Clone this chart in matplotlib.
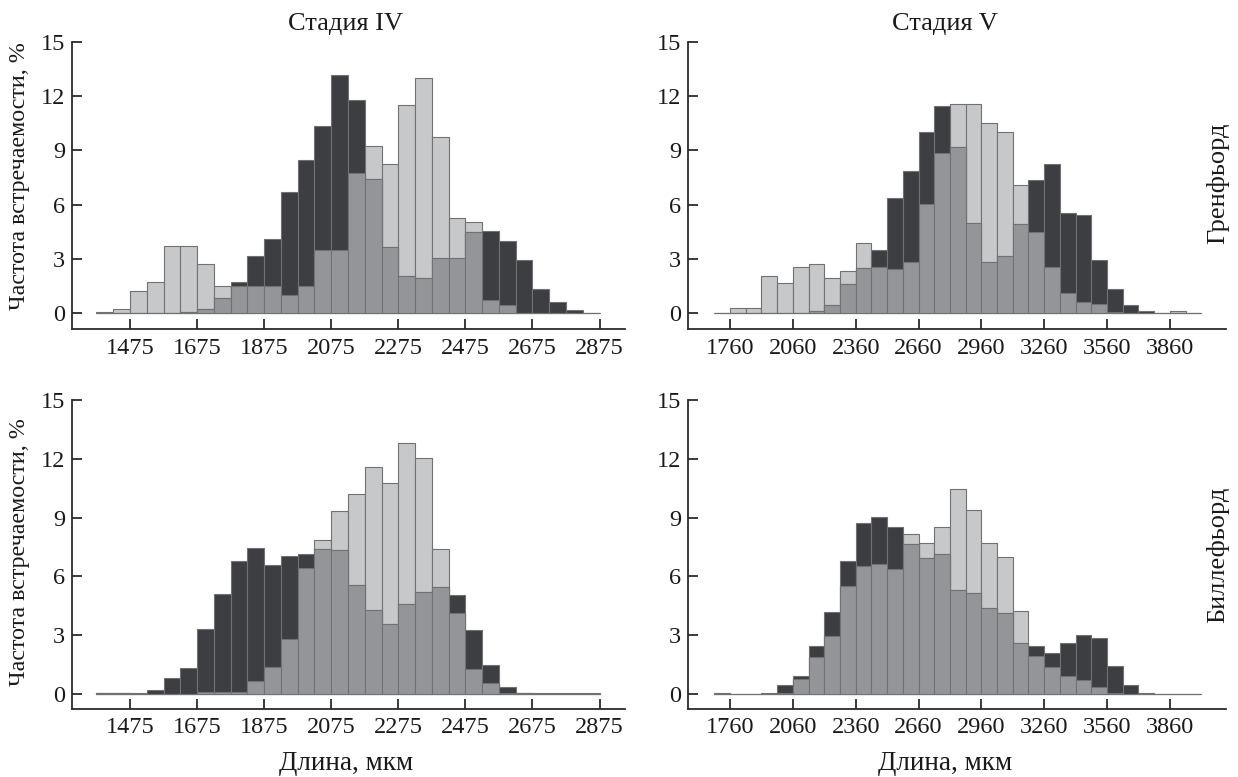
import matplotlib
matplotlib.use("Agg")
import matplotlib.pyplot as plt
import numpy as np

plt.rcParams['font.family'] = ['Liberation Serif', 'DejaVu Serif']

# ---------------- data ----------------
# Stage IV bins: width 50, starting at 1375
st4_start = 1375
st4_width = 50
st4_ticks = [1475, 1675, 1875, 2075, 2275, 2475, 2675, 2875]

# Stage V bins: width 75, starting at 1685
st5_start = 1685
st5_width = 75
st5_ticks = [1760, 2060, 2360, 2660, 2960, 3260, 3560, 3860]

y_ticks = [0, 3, 6, 9, 12, 15]

# Grenfjord, stage IV
gren4_light = [0.05, 0.24, 1.21, 1.73, 3.74, 3.74, 2.72, 1.49, 1.49, 1.49,
               1.49, 0.99, 1.49, 3.5, 3.5, 7.73, 9.26, 8.26, 11.49, 13.01,
               9.75, 5.28, 5.02, 0.72, 0.48, 0.0, 0.0, 0.0, 0.0, 0.03]
gren4_dark = [0.0, 0.0, 0.0, 0.0, 0.0, 0.05, 0.24, 0.85, 1.71, 3.18,
              4.09, 6.72, 8.49, 10.34, 13.16, 11.78, 7.42, 3.66, 2.06, 1.93,
              3.06, 3.06, 4.49, 4.56, 4.01, 2.93, 1.36, 0.61, 0.18, 0.0]

# Grenfjord, stage V
gren5_light = [0.03, 0.29, 0.29, 2.08, 1.69, 2.58, 2.71, 1.93, 2.32, 3.9,
               2.56, 2.45, 2.83, 6.02, 8.85, 11.56, 11.56, 10.51, 10.01, 7.07,
               4.51, 2.58, 1.14, 0.63, 0.5, 0.05, 0.0, 0.0, 0.04, 0.11, 0.03]
gren5_dark = [0.0, 0.0, 0.0, 0.0, 0.0, 0.0, 0.13, 0.44, 1.6, 2.52,
              3.52, 6.39, 7.88, 10.03, 11.43, 9.2, 4.97, 2.85, 3.17, 4.93,
              7.38, 8.23, 5.54, 5.43, 2.93, 1.36, 0.46, 0.15, 0.0, 0.0, 0.0]

# Billefjord, stage IV
bill4_light = [0.05, 0.07, 0.05, 0.02, 0.02, 0.02, 0.1, 0.1, 0.1, 0.68,
               1.39, 2.81, 6.45, 7.84, 9.34, 10.2, 11.58, 10.77, 12.81, 12.04,
               7.38, 4.12, 1.29, 0.56, 0.03, 0.07, 0.03, 0.03, 0.03, 0.03]
bill4_dark = [0.03, 0.03, 0.02, 0.22, 0.8, 1.31, 3.3, 5.12, 6.8, 7.43,
              6.6, 7.02, 7.14, 7.41, 7.36, 5.58, 4.29, 3.59, 4.61, 5.2,
              5.46, 5.05, 3.27, 1.48, 0.36, 0.03, 0.0, 0.0, 0.0, 0.0]

# Billefjord, stage V
bill5_light = [0.03, 0.02, 0.02, 0.02, 0.03, 0.78, 1.9, 2.98, 5.49, 6.55,
               6.63, 6.39, 8.15, 7.72, 8.54, 10.46, 9.37, 7.69, 7.01, 4.22,
               1.96, 1.38, 0.92, 0.71, 0.34, 0.07, 0.0, 0.0, 0.02, 0.02, 0.02]
bill5_dark = [0.0, 0.0, 0.0, 0.07, 0.48, 0.9, 2.45, 4.18, 6.8, 8.74,
              9.01, 8.54, 7.64, 6.96, 7.16, 5.29, 5.14, 4.4, 4.12, 2.6,
              2.45, 2.11, 2.59, 3.03, 2.86, 1.45, 0.44, 0.05, 0.0, 0.0, 0.0]

titles = ["Стадия IV", "Стадия V"]
row_labels = ["Гренфьорд", "Биллефьорд"]
ylabel = "Частота встречаемости, %"
xlabel = "Длина, мкм"

# ---------------- style ----------------
c_light = '#c7c8ca'
c_dark = '#3d3e41'
c_mid = '#949598'
c_edge = '#707173'
fs_tick = 17.5
fs_title = 19
fs_xlabel = 19.5
fs_ylabel = 17.3
fs_row = 19
tcol = '#1a1a1a'

W, H = 1238, 777
fig = plt.figure(figsize=(W / 100, H / 100), dpi=100)

def fx(px):
    return px / W

def fy(py):
    return 1 - py / H

panels = [
    ((72, 625, 41.7, 329.3), st4_start, st4_width, st4_ticks, gren4_light, gren4_dark, (1302, 2951), -0.88),
    ((688.3, 1226, 41.7, 329.3), st5_start, st5_width, st5_ticks, gren5_light, gren5_dark, (1561, 4128), -0.88),
    ((72, 625, 400, 709), st4_start, st4_width, st4_ticks, bill4_light, bill4_dark, (1302, 2951), -0.77),
    ((688.3, 1226, 400, 709), st5_start, st5_width, st5_ticks, bill5_light, bill5_dark, (1561, 4128), -0.77),
]

for (l, r, t, b), start, width, ticks, light, dark, xlim, ylow in panels:
    ax = fig.add_axes([fx(l), fy(b), fx(r) - fx(l), fy(t) - fy(b)])
    light = np.array(light)
    dark = np.array(dark)
    edges = start + width * np.arange(len(light))
    overlap = np.minimum(light, dark)
    ax.bar(edges, light, width=width, align='edge', color=c_light,
           edgecolor=c_edge, linewidth=0.8, zorder=2)
    ax.bar(edges, dark, width=width, align='edge', color=c_dark,
           edgecolor=c_edge, linewidth=0.8, zorder=3)
    ax.bar(edges, overlap, width=width, align='edge', color=c_mid,
           edgecolor=c_edge, linewidth=0.8, zorder=4)
    ax.set_xlim(*xlim)
    ax.set_ylim(ylow, 15)
    ax.set_xticks(ticks)
    ax.set_xticklabels([str(v) for v in ticks])
    ax.set_yticks(y_ticks)
    ax.spines['top'].set_visible(False)
    ax.spines['right'].set_visible(False)
    for s in ('left', 'bottom'):
        ax.spines[s].set_linewidth(1.3)
        ax.spines[s].set_color('#2b2b2b')
    ax.tick_params(direction='in', length=7, width=1.3, color='#2b2b2b',
                   labelsize=fs_tick, labelcolor=tcol)
    ax.tick_params(axis='x', pad=6)
    ax.tick_params(axis='y', pad=5)

# titles
fig.text(fx(346), fy(24), titles[0], ha='center', va='center', fontsize=fs_title, color=tcol)
fig.text(fx(945), fy(24), titles[1], ha='center', va='center', fontsize=fs_title, color=tcol)

# y labels
fig.text(fx(20), fy(176), ylabel, rotation=90, ha='center', va='center', fontsize=fs_ylabel, color=tcol)
fig.text(fx(20), fy(552), ylabel, rotation=90, ha='center', va='center', fontsize=fs_ylabel, color=tcol)

# x labels
fig.text(fx(346), fy(764), xlabel, ha='center', va='center', fontsize=fs_xlabel, color=tcol)
fig.text(fx(945), fy(764), xlabel, ha='center', va='center', fontsize=fs_xlabel, color=tcol)

# row labels
fig.text(fx(1218), fy(183), row_labels[0], rotation=90, ha='center', va='center', fontsize=fs_row, color=tcol)
fig.text(fx(1218), fy(555), row_labels[1], rotation=90, ha='center', va='center', fontsize=fs_row, color=tcol)

fig.savefig('out.png', dpi=100)
